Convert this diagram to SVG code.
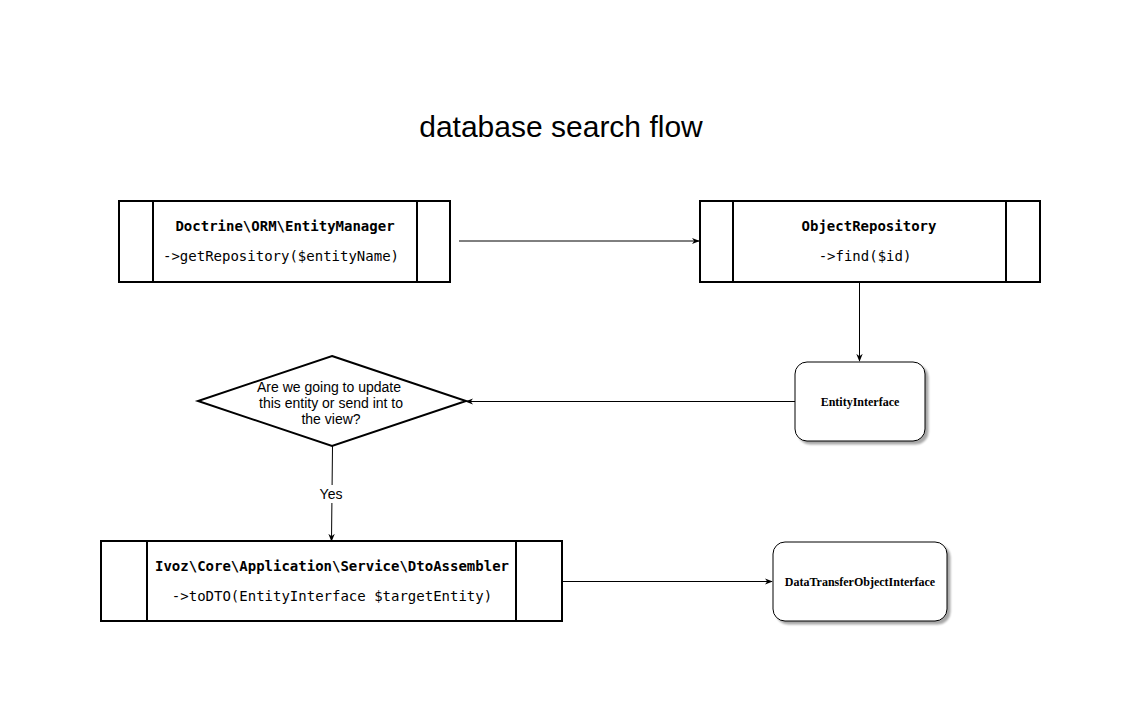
<svg xmlns="http://www.w3.org/2000/svg" width="1140" height="725" viewBox="0 0 1140 725">
<defs>
<marker id="arr" viewBox="0 0 10 10" refX="9" refY="5" markerWidth="8" markerHeight="8" markerUnits="userSpaceOnUse" orient="auto">
<path d="M0,1 L10,5 L0,9 L3,5 Z" fill="#000"/>
</marker>
<filter id="sh" x="-10%" y="-10%" width="130%" height="130%">
<feGaussianBlur in="SourceAlpha" stdDeviation="1.2"/>
<feOffset dx="2.5" dy="2.5" result="b"/>
<feComponentTransfer><feFuncA type="linear" slope="0.35"/></feComponentTransfer>
<feMerge><feMergeNode/><feMergeNode in="SourceGraphic"/></feMerge>
</filter>
</defs>
<style>
.proc{fill:#fff;stroke:#000;stroke-width:2}
.div{stroke:#000;stroke-width:2}
.mono{font-family:"DejaVu Sans Mono",monospace;font-size:14px;fill:#000;text-anchor:middle}
.b{font-weight:bold}
.sans{font-family:"Liberation Sans",Arial,sans-serif;font-size:14px;fill:#000;text-anchor:middle}
.serif{font-family:"Liberation Serif","Times New Roman",serif;font-size:12px;font-weight:bold;fill:#000;text-anchor:middle}
.rr{fill:#fff;stroke:#000;stroke-width:1}
.edge{fill:none;stroke:#000;stroke-width:1;marker-end:url(#arr)}
</style>
<rect width="1140" height="725" fill="#fff"/>
<text x="561" y="137" font-family="Liberation Sans,Arial,sans-serif" font-size="30" text-anchor="middle" fill="#000">database search flow</text>

<g id="connectors">
<path class="edge" d="M459,241 L699,241"/>
<path class="edge" d="M859.5,282 L859.5,361"/>
<path class="edge" d="M799,401.5 L466,401.5"/>
<path class="edge" d="M332.5,446 L331.5,541"/>
<path class="edge" d="M562,581.5 L772,581.5"/>
<rect x="316" y="485" width="30" height="18" fill="#fff"/>
<text class="sans" x="331" y="499">Yes</text>
</g>

<g id="entityManager">
<rect class="proc" x="119" y="201" width="331" height="81"/>
<line class="div" x1="153" y1="201" x2="153" y2="282"/>
<line class="div" x1="417" y1="201" x2="417" y2="282"/>
<text class="mono b" x="285" y="231">Doctrine\ORM\EntityManager</text>
<text class="mono" x="281" y="261">-&gt;getRepository($entityName)</text>
</g>

<g id="objectRepository">
<rect class="proc" x="700" y="201" width="340" height="81"/>
<line class="div" x1="733" y1="201" x2="733" y2="282"/>
<line class="div" x1="1006" y1="201" x2="1006" y2="282"/>
<text class="mono b" x="869" y="231">ObjectRepository</text>
<text class="mono" x="865" y="261">-&gt;find($id)</text>
</g>

<g id="entityInterface">
<rect class="rr" x="795" y="362" width="130" height="79" rx="12" filter="url(#sh)"/>
<text class="serif" x="860" y="406">EntityInterface</text>
</g>

<g id="decision">
<polygon points="332,356 466,401 332,446 198,401" fill="#fff" stroke="#000" stroke-width="2"/>
<text class="sans" x="329" y="392">Are we going to update</text>
<text class="sans" x="331" y="408">this entity or send int to</text>
<text class="sans" x="331" y="424">the view?</text>
</g>

<g id="dtoAssembler">
<rect class="proc" x="101" y="541" width="461" height="80"/>
<line class="div" x1="147" y1="541" x2="147" y2="621"/>
<line class="div" x1="516" y1="541" x2="516" y2="621"/>
<text class="mono b" x="332" y="571">Ivoz\Core\Application\Service\DtoAssembler</text>
<text class="mono" x="332" y="601">-&gt;toDTO(EntityInterface $targetEntity)</text>
</g>

<g id="dtoInterface">
<rect class="rr" x="773" y="542" width="174" height="79" rx="12" filter="url(#sh)"/>
<text class="serif" x="860" y="586">DataTransferObjectInterface</text>
</g>
</svg>
